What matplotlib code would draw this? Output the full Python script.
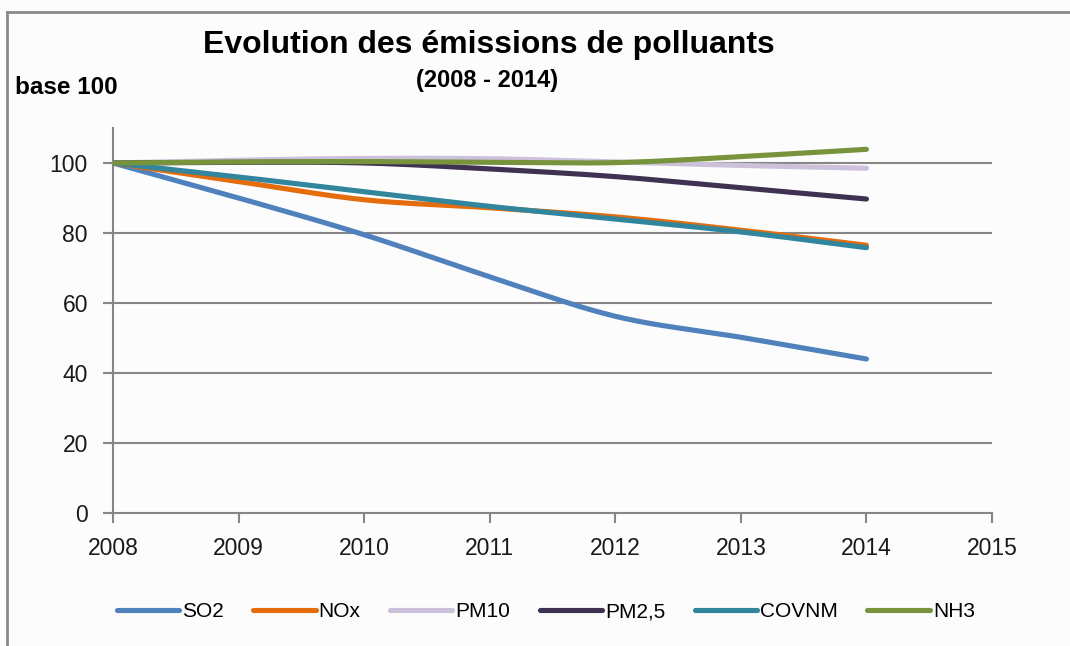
import numpy as np
import matplotlib
matplotlib.use("Agg")
import matplotlib.pyplot as plt
from matplotlib.lines import Line2D

plt.rcParams['font.family'] = ['Liberation Sans', 'DejaVu Sans']

# data (indice base 100 en 2008)
years = [2008, 2009, 2010, 2011, 2012, 2013, 2014]
so2 = [100, 90.0, 79.5, 67.5, 56.2, 50.2, 44.0]
nox = [100, 94.7, 89.5, 87.2, 84.6, 80.8, 76.5]
pm10 = [100, 100.8, 101.3, 101.2, 100.3, 99.3, 98.5]
pm25 = [100, 100.2, 100.0, 98.3, 96.1, 92.9, 89.7]
covnm = [100, 96.0, 91.8, 87.6, 84.0, 80.3, 75.8]
nh3 = [100, 100.3, 100.4, 100.2, 100.1, 101.8, 103.9]

labels = ['SO2', 'NOx', 'PM10', 'PM2,5', 'COVNM', 'NH3']
colors = ['#4F81BD', '#E46C0A', '#CCC1DA', '#3F3151', '#31859C', '#77933C']
series = [so2, nox, pm10, pm25, covnm, nh3]


def smooth(x, y, n=30):
    """Courbe lissée type Excel (Catmull-Rom)"""
    x = np.asarray(x, float)
    y = np.asarray(y, float)
    px = np.concatenate([[2 * x[0] - x[1]], x, [2 * x[-1] - x[-2]]])
    py = np.concatenate([[2 * y[0] - y[1]], y, [2 * y[-1] - y[-2]]])
    xs, ys = [], []
    t = np.linspace(0, 1, n, endpoint=False)
    for i in range(1, len(px) - 2):
        for p, out in ((px, xs), (py, ys)):
            p0, p1, p2, p3 = p[i - 1], p[i], p[i + 1], p[i + 2]
            out.extend(0.5 * ((2 * p1) + (-p0 + p2) * t
                              + (2 * p0 - 5 * p1 + 4 * p2 - p3) * t ** 2
                              + (-p0 + 3 * p1 - 3 * p2 + p3) * t ** 3))
    xs.append(x[-1])
    ys.append(y[-1])
    return xs, ys


fig = plt.figure(figsize=(10.7, 6.46), dpi=100, facecolor='#FCFCFC')
ax = fig.add_axes([0.1056, 0.2059, 0.8215, 0.596])
ax.set_facecolor('#FCFCFC')

grid_color = '#868686'
for v in [20, 40, 60, 80, 100]:
    ax.axhline(v, color=grid_color, lw=1.5, zorder=1)

for vals, col, lab in zip(series, colors, labels):
    sx, sy = smooth(years, vals)
    ax.plot(sx, sy, color=col, lw=3.7, solid_capstyle='round', zorder=3, label=lab)

ax.set_xlim(2008, 2015)
ax.set_ylim(0, 110)
ax.set_xticks(range(2008, 2016))
ax.set_yticks(range(0, 101, 20))
ax.tick_params(axis='both', colors=grid_color, labelcolor='#1A1A1A', labelsize=16.5,
               width=1.5, length=7, direction='out')
ax.tick_params(axis='x', pad=10)
ax.tick_params(axis='y', pad=11)
for s in ['top', 'right']:
    ax.spines[s].set_visible(False)
for s in ['left', 'bottom']:
    ax.spines[s].set_color(grid_color)
    ax.spines[s].set_linewidth(1.5)

fig.text(0.457, 0.93, 'Evolution des émissions de polluants', ha='center', va='center',
         fontsize=23, fontweight='bold')
fig.text(0.455, 0.876, '(2008 - 2014)', ha='center', va='center',
         fontsize=17, fontweight='bold')
fig.text(0.014, 0.864, 'base 100', ha='left', va='center',
         fontsize=17.5, fontweight='bold')

handles = [Line2D([0], [0], color=c, lw=3.7, solid_capstyle='round') for c in colors]
fig.legend(handles, labels, loc='center', bbox_to_anchor=(0.51, 0.053), ncol=6,
           frameon=False, fontsize=15, handlelength=3.0, handletextpad=0.15,
           columnspacing=1.4)

# cadre du graphique (haut et gauche)
fig.add_artist(Line2D([0.007, 1.0], [0.982, 0.982], color='#8A8A8A', lw=2))
fig.add_artist(Line2D([0.007, 0.007], [0.0, 0.982], color='#8A8A8A', lw=2))

fig.savefig('out.png', dpi=100, facecolor=fig.get_facecolor())
